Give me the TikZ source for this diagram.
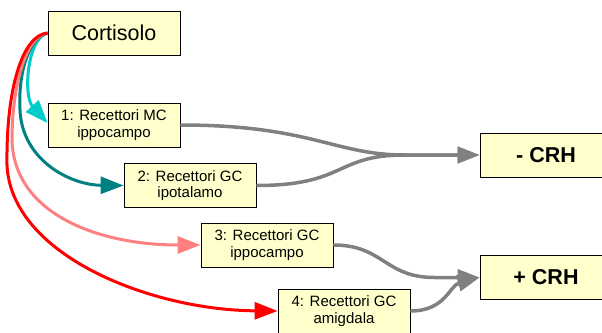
\documentclass[tikz,border=0pt]{standalone}
\usepackage{fontspec}
\setmainfont{Liberation Sans}
\usetikzlibrary{arrows.meta}
\definecolor{boxfill}{RGB}{255,255,204}
\definecolor{cyanc}{RGB}{0,204,204}
\definecolor{tealc}{RGB}{0,128,128}
\definecolor{pinkc}{RGB}{255,128,128}
\definecolor{redc}{RGB}{255,0,0}
\definecolor{grayc}{RGB}{128,128,128}
\tikzset{
  rbox/.style={draw=black, line width=0.8pt, fill=boxfill, minimum width=132pt, minimum height=44pt, inner sep=0pt, align=center, font=\fontsize{15}{16.5}\selectfont},
  cbox/.style={rbox, font=\fontsize{21.5}{23}\selectfont},
  crhbox/.style={rbox, font=\fontsize{21.5}{23}\selectfont\bfseries},
  carrow/.style={line width=3pt, -{Triangle[length=23pt,width=17pt]}},
  garrow/.style={line width=3.5pt, grayc, -{Triangle[length=22pt,width=16pt]}},
}
\begin{document}
\begin{tikzpicture}[x=1pt,y=-1pt]
\useasboundingbox (0,0) rectangle (602,332);
\node[cbox] (cort) at (114,33) {Cortisolo};
\node[rbox] (b1) at (114,125) {1: Recettori MC\\ippocampo};
\node[rbox] (b2) at (190,185.5) {2: Recettori GC\\ipotalamo};
\node[rbox] (b3) at (267,245) {3: Recettori GC\\ippocampo};
\node[rbox] (b4) at (344,311) {4: Recettori GC\\amigdala};
\node[crhbox] (crhm) at (546,155) {- CRH};
\node[crhbox] (crhp) at (546,277.5) {+ CRH};
% gray arrows
\draw[garrow] (b1.east) .. controls +(130,0) and +(-70,0) .. ([xshift=-75pt]crhm.west) -- (crhm.west);
\draw[garrow] (b2.east) .. controls +(90,0) and +(-70,0) .. ([xshift=-75pt]crhm.west) -- (crhm.west);
\draw[garrow] (b3.east) .. controls +(50,0) and +(-50,0) .. ([xshift=-45pt]crhp.west) -- (crhp.west);
\draw[garrow] (b4.east) .. controls +(35,0) and +(-30,8) .. (crhp.west);
% colored arrows
\draw[carrow, cyanc] (cort.west) .. controls (27,38) and (23,96) .. (b1.north west |- 0,123);
\draw[carrow, tealc] (cort.west) .. controls (28,38) and (18,75) .. (20,110)
  .. controls (22,160) and (70,185) .. (b2.west);
\draw[carrow, pinkc] (cort.west) .. controls (26,36) and (12,85) .. (12,140)
  .. controls (14,215) and (100,245) .. (b3.west);
\draw[carrow, redc] (cort.west) .. controls (22,35) and (6,90) .. (7,165)
  .. controls (11,255) and (150,310) .. (b4.west);
\end{tikzpicture}
\end{document}
